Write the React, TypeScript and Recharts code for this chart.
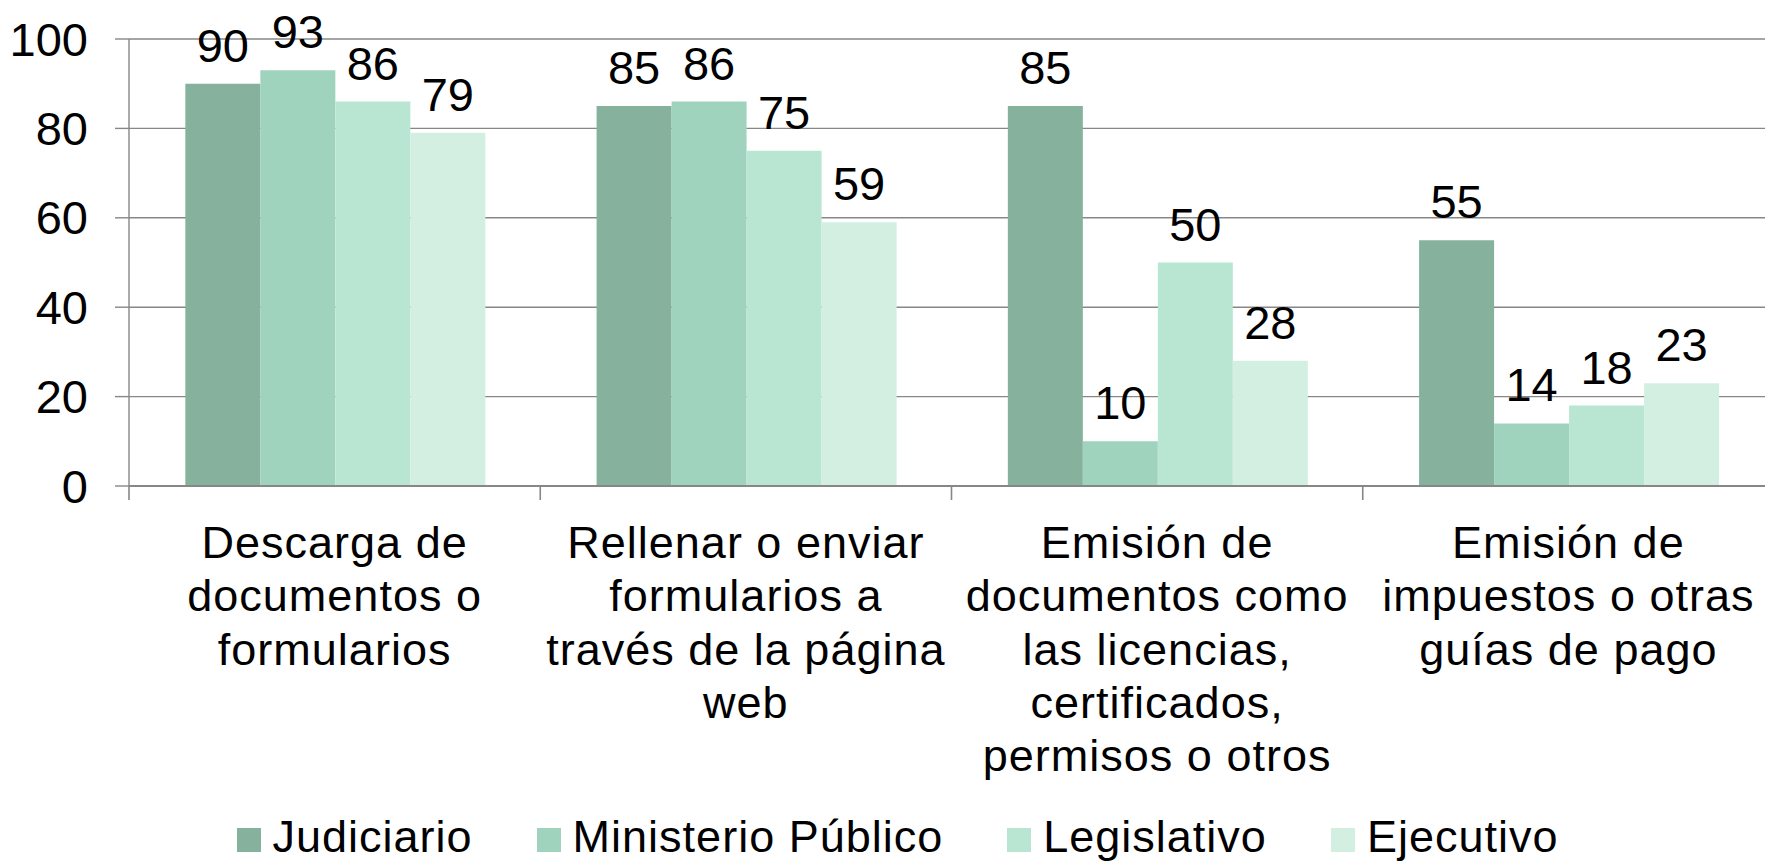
import * as React from "react";
import {
  BarChart,
  Bar,
  XAxis,
  YAxis,
  CartesianGrid,
  Legend,
  LabelList,
} from "recharts";

// categories (line breaks as in the original chart)
const categories = [
  "Descarga de\ndocumentos o\nformularios",
  "Rellenar o enviar\nformularios a\ntravés de la página\nweb",
  "Emisión de\ndocumentos como\nlas licencias,\ncertificados,\npermisos o otros",
  "Emisión de\nimpuestos o otras\nguías de pago",
];

const judiciario = [90, 85, 85, 55];
const ministerioPublico = [93, 86, 10, 14];
const legislativo = [86, 75, 50, 18];
const ejecutivo = [79, 59, 28, 23];

const yTicks = [0, 20, 40, 60, 80, 100];
const boundaryTicks = [0, 1, 2, 3, 4];

const FONT = "'Liberation Sans', Arial, Helvetica, sans-serif";
const GRID = "#878787";

const series = [
  { key: "judiciario", name: "Judiciario", color: "#86b19d" },
  { key: "ministerio", name: "Ministerio Público", color: "#a0d3bd" },
  { key: "legislativo", name: "Legislativo", color: "#b9e6d3" },
  { key: "ejecutivo", name: "Ejecutivo", color: "#d3efe2" },
];

function CategoryTick(props: any) {
  const { x, y, payload } = props;
  const lines = String(payload.value).split("\n");
  return (
    <text
      x={x}
      y={y}
      textAnchor="middle"
      fontSize={45}
      letterSpacing={1}
      fontFamily={FONT}
      fill="#000"
    >
      {lines.map((l, i) => (
        <tspan key={i} x={x} dy={i === 0 ? 58 : 53.3}>
          {l}
        </tspan>
      ))}
    </text>
  );
}

// legend drawn in series order (recharts would sort it otherwise)
function LegendContent() {
  return (
    <div
      style={{
        display: "flex",
        justifyContent: "center",
        alignItems: "center",
        height: 54,
        paddingLeft: 30,
        fontFamily: FONT,
        fontSize: 45,
        letterSpacing: 1,
        lineHeight: "54px",
        color: "#000",
      }}
    >
      {series.map((it, i) => (
        <div
          key={it.key}
          style={{
            display: "flex",
            alignItems: "center",
            marginLeft: i === 0 ? 0 : 64,
          }}
        >
          <span
            style={{
              display: "inline-block",
              width: 24,
              height: 24,
              background: it.color,
              marginRight: 12,
              position: "relative",
              top: 3,
            }}
          />
          <span>{it.name}</span>
        </div>
      ))}
    </div>
  );
}

export default function App() {
  const rows = categories.map((name, i) => ({
    name,
    slot: i + 0.5, // category centre on the 0..4 boundary scale
    judiciario: judiciario[i],
    ministerio: ministerioPublico[i],
    legislativo: legislativo[i],
    ejecutivo: ejecutivo[i],
  }));

  return (
    <div
      style={{
        position: "absolute",
        left: 0,
        top: 0,
        width: 1765,
        height: 864,
        overflow: "hidden",
        background: "#fff",
      }}
    >
      <BarChart
        width={1765}
        height={864}
        data={rows}
        // the plot area runs a little past the right edge in the original
        margin={{ top: 39, right: -9, left: 0, bottom: 0 }}
        barCategoryGap="13.7%"
        barGap={0}
      >
        <CartesianGrid
          vertical={false}
          stroke={GRID}
          strokeWidth={1.4}
          xAxisId="b-cat"
        />
        {/* tick marks between categories + the zero line */}
        <XAxis
          xAxisId="a-ticks"
          type="number"
          dataKey="slot"
          domain={[0, 4]}
          ticks={boundaryTicks}
          allowDataOverflow
          tick={() => <g />}
          tickSize={14}
          height={14}
          axisLine={{ stroke: GRID, strokeWidth: 2 }}
          tickLine={{ stroke: GRID, strokeWidth: 1.6 }}
        />
        <XAxis
          xAxisId="b-cat"
          dataKey="name"
          interval={0}
          axisLine={false}
          tickLine={false}
          tickSize={0}
          tickMargin={0}
          height={310}
          tick={(p: any) => <CategoryTick {...p} />}
        />
        <YAxis
          width={129}
          domain={[0, 100]}
          ticks={yTicks}
          interval={0}
          tickSize={14}
          tickMargin={27}
          axisLine={{ stroke: GRID, strokeWidth: 1.4 }}
          tickLine={{ stroke: GRID, strokeWidth: 1.4 }}
          tick={{ fontSize: 47, fontFamily: FONT, fill: "#000" }}
        />
        <Legend
          verticalAlign="bottom"
          height={54}
          wrapperStyle={{ left: 0, width: 1765 }}
          content={() => <LegendContent />}
        />
        {series.map((s) => (
          <Bar
            key={s.key}
            xAxisId="b-cat"
            dataKey={s.key}
            name={s.name}
            fill={s.color}
            isAnimationActive={false}
          >
            <LabelList
              dataKey={s.key}
              position="top"
              offset={22}
              fill="#000"
              fontSize={47}
              fontFamily={FONT}
            />
          </Bar>
        ))}
      </BarChart>
    </div>
  );
}
